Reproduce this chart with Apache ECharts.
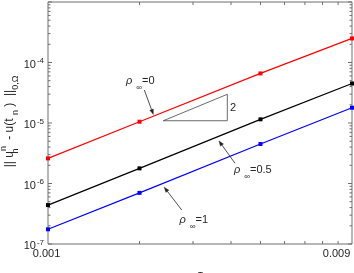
<!DOCTYPE html>
<html>
<head>
<meta charset="utf-8">
<script src="https://cdn.jsdelivr.net/npm/echarts@6/dist/echarts.min.js"></script>
<style>html,body{margin:0;padding:0;background:#fff}#c{width:354px;height:273px}</style>
</head>
<body>
<div id="c"></div>
<script>
// ---- data ----
const tau = [0.001, 0.002, 0.005, 0.01];
const errRho0 = [2.6e-6, 1.05e-5, 6.6e-5, 2.5e-4];
const errRho05 = [4.4e-7, 1.78e-6, 1.15e-5, 4.5e-5];
const errRho1 = [1.75e-7, 7.0e-7, 4.5e-6, 1.79e-5];
const seriesColors = ['#ff0000', '#000000', '#0000ff'];
const rhoValues = ['0', '0.5', '1'];
// annotation anchors (data coords)
const annoX = [0.001805, 0.004091, 0.002708];
const annoY = [5.04e-5, 1.67e-6, 2.54e-7];
const arrowFromX = [0.002074, 0.004122, 0.002753];
const arrowFromY = [3.51e-5, 2.16e-6, 3.65e-7];
const arrowToX = [0.002220, 0.003652, 0.002413];
const arrowToY = [1.39e-5, 5.04e-6, 8.65e-7];
// slope triangle
const slopeTriX = [0.002395, 0.003889, 0.003889, 0.002395];
const slopeTriY = [1.09e-5, 1.09e-5, 2.98e-5, 1.09e-5];
const slopeLabel = '2';
const slopeLabelX = 0.003971;
const slopeLabelY = 1.77e-5;
// ticks
const xTickLabels = [0.001, 0.009];
const xMinorTicks = [0.002, 0.003, 0.004, 0.005, 0.006, 0.007, 0.008, 0.009];
const yMajorTicks = [1e-7, 1e-6, 1e-5, 1e-4, 1e-3];
const yMinorMantissa = [2, 3, 4, 5, 6, 7, 8, 9];
const yTitle = '{n||| u}{hs|h}{p|n}{n| - u(t }{h|n}{n| )  ||}{h|0,Ω}';
const xTitle = 'τ';

const FONT = 'Liberation Sans, Arial, sans-serif';
const TXT = '#262626';
const AX = '#6e6e6e';

const yMinorTicks = [];
for (let i = 0; i < yMajorTicks.length - 1; i++) {
  yMinorMantissa.forEach(m => yMinorTicks.push(m * yMajorTicks[i]));
}

function mk(name, data, color) {
  return {
    type: 'line', name: name,
    data: tau.map((t, i) => [t, data[i]]),
    symbol: 'rect', symbolSize: 4,
    lineStyle: { color: color, width: 1.2 },
    itemStyle: { color: color },
    clip: false, silent: true, animation: false, z: 3
  };
}

const annoRich = {
  r: { fontFamily: FONT, fontSize: 11, fontStyle: 'italic', lineHeight: 22, verticalAlign: 'middle', fill: TXT, color: TXT, padding: [0, 4, 0, 0] },
  i: { fontFamily: FONT, fontSize: 8, lineHeight: 8, verticalAlign: 'bottom', fill: TXT, color: TXT },
  t: { fontFamily: FONT, fontSize: 11, lineHeight: 22, verticalAlign: 'middle', fill: TXT, color: TXT }
};
const titleRich = {
  n: { fontFamily: FONT, fontSize: 12, lineHeight: 21, verticalAlign: 'middle', fill: TXT, color: TXT },
  h: { fontFamily: FONT, fontSize: 9, lineHeight: 9, verticalAlign: 'bottom', fill: TXT, color: TXT },
  hs: { fontFamily: FONT, fontSize: 9, lineHeight: 9, verticalAlign: 'bottom', fill: TXT, color: TXT, width: 0 },
  p: { fontFamily: FONT, fontSize: 9, lineHeight: 9, verticalAlign: 'top', fill: TXT, color: TXT, padding: [0, 3, 0, 0] }
};

function renderDecor(params, api) {
  const cs = params.coordSys;
  const L = cs.x, R = cs.x + cs.width, T = cs.y, B = cs.y + cs.height;
  const ch = [];
  const ls = { stroke: AX, lineWidth: 1 };
  xMinorTicks.forEach(v => {
    const px = api.coord([v, 1e-6])[0];
    ch.push({ type: 'line', shape: { x1: px, y1: B, x2: px, y2: B - 3 }, style: ls });
    ch.push({ type: 'line', shape: { x1: px, y1: T, x2: px, y2: T + 3 }, style: ls });
  });
  yMajorTicks.forEach(v => {
    const py = api.coord([0.002, v])[1];
    ch.push({ type: 'line', shape: { x1: L, y1: py, x2: L + 4, y2: py }, style: ls });
    ch.push({ type: 'line', shape: { x1: R, y1: py, x2: R - 4, y2: py }, style: ls });
  });
  yMinorTicks.forEach(v => {
    const py = api.coord([0.002, v])[1];
    ch.push({ type: 'line', shape: { x1: L, y1: py, x2: L + 2.5, y2: py }, style: ls });
    ch.push({ type: 'line', shape: { x1: R, y1: py, x2: R - 2.5, y2: py }, style: ls });
  });
  xTickLabels.forEach(v => {
    const px = api.coord([v, 1e-6])[0];
    ch.push({ type: 'text', style: { text: String(v), x: px - 1.5, y: B + 9.5, align: 'center', verticalAlign: 'middle', textAlign: 'center', textVerticalAlign: 'middle', fontFamily: FONT, fontSize: 11, fill: TXT } });
  });
  // y axis title (rotated)
  ch.push({ type: 'text', x: L - 38.5, y: T + cs.height / 2 - 1.5, rotation: Math.PI / 2,
    style: { text: yTitle, rich: titleRich, x: 0, y: 0, align: 'center', verticalAlign: 'middle', textAlign: 'center', textVerticalAlign: 'middle', fontFamily: FONT, fontSize: 12, fill: TXT } });
  // annotations
  for (let k = 0; k < rhoValues.length; k++) {
    const a = api.coord([annoX[k], annoY[k]]);
    ch.push({ type: 'text', style: { text: '{r|ρ}{i|∞}{t|=' + rhoValues[k] + '}', rich: annoRich, x: a[0], y: a[1], align: 'left', verticalAlign: 'middle', textAlign: 'left', textVerticalAlign: 'middle', fontFamily: FONT, fontSize: 11, fill: TXT } });
    const p0 = api.coord([arrowFromX[k], arrowFromY[k]]);
    const p1 = api.coord([arrowToX[k], arrowToY[k]]);
    const dx = p1[0] - p0[0], dy = p1[1] - p0[1];
    const len = Math.sqrt(dx * dx + dy * dy);
    const ux = dx / len, uy = dy / len;
    const hl = 5, hw = 1.8;
    const bx = p1[0] - ux * hl, by = p1[1] - uy * hl;
    ch.push({ type: 'line', shape: { x1: p0[0], y1: p0[1], x2: bx, y2: by }, style: { stroke: '#222', lineWidth: 0.8 } });
    ch.push({ type: 'polygon', shape: { points: [[p1[0], p1[1]], [bx - uy * hw, by + ux * hw], [bx + uy * hw, by - ux * hw]] }, style: { fill: '#222', stroke: '#222', lineWidth: 0.5 } });
  }
  const sl = api.coord([slopeLabelX, slopeLabelY]);
  ch.push({ type: 'text', style: { text: slopeLabel, x: sl[0], y: sl[1], align: 'left', verticalAlign: 'middle', textAlign: 'left', textVerticalAlign: 'middle', fontFamily: FONT, fontSize: 11, fill: TXT } });
  return { type: 'group', children: ch };
}

const chart = echarts.init(document.getElementById('c'), null, { renderer: 'canvas' });
chart.setOption({
  animation: false,
  backgroundColor: '#fff',
  grid: { left: 48, right: 2, top: 2, bottom: 29, containLabel: false, outerBoundsMode: 'none', show: true, borderColor: AX, borderWidth: 1, backgroundColor: 'transparent' },
  xAxis: {
    type: 'log', logBase: 10, min: 0.001, max: 0.01,
    axisLine: { show: false }, axisTick: { show: false }, axisLabel: { show: false }, splitLine: { show: false },
    name: xTitle, nameLocation: 'middle', nameGap: 26,
    nameTextStyle: { fontFamily: FONT, fontSize: 12, fontStyle: 'italic', color: TXT }
  },
  yAxis: {
    type: 'log', logBase: 10, min: 1e-7, max: 1e-3, splitNumber: 4,
    axisLine: { show: false }, axisTick: { show: false }, splitLine: { show: false },
    axisLabel: {
      margin: 4, showMinLabel: true, showMaxLabel: true, padding: [4, 0, 0, 0],
      formatter: function (v) {
        const e = Math.round(Math.log10(v));
        if (e === -3) return '';
        return '{b|10}{s|' + e + '}';
      },
      rich: {
        b: { fontFamily: FONT, fontSize: 11, lineHeight: 15, verticalAlign: 'middle', color: TXT },
        s: { fontFamily: FONT, fontSize: 8, lineHeight: 8, verticalAlign: 'top', color: TXT, padding: [0, 0, 0, 1] }
      }
    }
  },
  series: [
    mk('rho0', errRho0, seriesColors[0]),
    mk('rho05', errRho05, seriesColors[1]),
    mk('rho1', errRho1, seriesColors[2]),
    {
      type: 'line', name: 'slope',
      data: slopeTriX.map((x, i) => [x, slopeTriY[i]]),
      symbol: 'none', lineStyle: { color: '#444', width: 0.8 }, silent: true, z: 2
    },
    {
      type: 'custom', name: 'decor', coordinateSystem: 'cartesian2d',
      data: [[0.002, 1e-6]], renderItem: renderDecor, silent: true, clip: false, z: 4
    }
  ]
});
</script>
</body>
</html>
